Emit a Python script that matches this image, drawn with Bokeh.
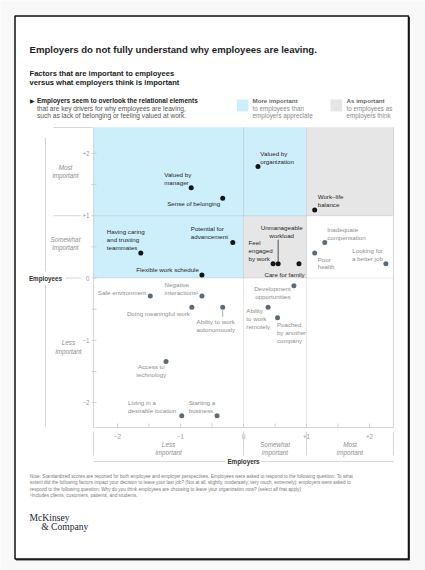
from bokeh.plotting import figure
from bokeh.models import Range1d
from bokeh.core.properties import value
from bokeh.embed import file_html
from bokeh.resources import INLINE

# ---------------- data ----------------
factors = [
    "Valued by manager", "Sense of belonging", "Potential for advancement",
    "Having caring and trusting teammates", "Flexible work schedule",
    "Valued by organization", "Work–life balance", "Feel engaged by work",
    "Unmanageable workload", "Care for family",
    "Inadequate compensation", "Poor health", "Looking for a better job",
    "Safe environment", "Negative interactions¹", "Doing meaningful work",
    "Ability to work autonomously", "Access to technology",
    "Living in a desirable location", "Starting a business",
    "Development opportunities", "Ability to work remotely",
    "Poached by another company",
]
label_lines = [
    "Valued by\nmanager", "Sense of belonging", "Potential for\nadvancement",
    "Having caring\nand trusting\nteammates", "Flexible work schedule",
    "Valued by\norganization", "Work–life\nbalance", "Feel\nengaged\nby work",
    "Unmanageable\nworkload", "Care for family",
    "Inadequate\ncompensation", "Poor\nhealth", "Looking for\na better job",
    "Safe environment", "Negative\ninteractions¹", "Doing meaningful work",
    "Ability to work\nautonomously", "Access to\ntechnology",
    "Living in a\ndesirable location", "Starting a\nbusiness",
    "Development\nopportunities", "Ability\nto work\nremotely",
    "Poached\nby another\ncompany",
]
# x: importance according to employers, y: importance according to employees
employers = [-0.83, -0.33, -0.17, -1.63, -0.66, 0.23, 1.13, 0.47, 0.55, 0.88,
             1.29, 1.13, 2.26, -1.48, -0.66, -0.82, -0.33, -1.23, -0.98, -0.42,
             0.80, 0.39, 0.54]
employees = [1.45, 1.28, 0.57, 0.40, 0.05, 1.79, 1.09, 0.23, 0.23, 0.23,
             0.57, 0.40, 0.23, -0.29, -0.29, -0.47, -0.47, -1.34, -2.21, -2.21,
             -0.125, -0.47, -0.64]

x_ticks = [-2, -1, 0, 1, 2]
x_tick_labels = ["−2", "−1", "0", "+1", "+2"]
y_ticks = [2, 1, 0, -1, -2]
y_tick_labels = ["+2", "+1", "0", "−1", "−2"]
minor_ticks = [-2, -1.5, -1, -0.5, 0, 0.5, 1, 1.5, 2]
x_limits = [-2.38, 2.38]
y_limits = [-2.40, 2.42]
x_band_edges = [-2.38, 0, 1, 2.38]
x_band_names = ["Less\nimportant", "Somewhat\nimportant", "Most\nimportant"]
y_band_names = ["Most\nimportant", "Somewhat\nimportant", "Less\nimportant"]

# ---------------- layout (page pixels) ----------------
W, H = 425, 570
OFF = 0
X0, Y0 = 243.0, 277.5     # page pixel of data (0, 0)
SX, SY = 63.0, 62.3       # pixels per unit


def X(px):
    return (px - X0) / SX


def Y(py):
    return (Y0 - py) / SY


FONT = value("Liberation Sans")
SERIF = value("Liberation Serif")

BLUE = "#cdeefb"
GRAY_BG = "#e6e6e6"
DARK_PT = "#151515"
GRAY_PT = "#5d6a75"
DARK_TXT = "#262626"
GRAY_TXT = "#8e8e8e"
TICK_TXT = "#9c9c9c"
LINE = "#d6d6d6"

p = figure(width=W, height=H,
           x_range=Range1d(X(OFF), X(OFF + W)),
           y_range=Range1d(Y(OFF + H), Y(OFF)),
           x_axis_type=None, y_axis_type=None,
           min_border=0, toolbar_location=None, output_backend="svg")
p.outline_line_color = None
p.background_fill_color = "#f8f8f8"
p.border_fill_color = "#f8f8f8"
p.grid.visible = False


def txt(px, py, s, size, color, bold=False, italic=False, align="left",
        baseline="middle", font=FONT, lh=1.2):
    style = "normal"
    if bold and italic:
        style = "bold italic"
    elif bold:
        style = "bold"
    elif italic:
        style = "italic"
    p.text(x=[X(px)], y=[Y(py)], text=[s], text_font=font,
           text_font_size=value(f"{size}px"), text_color=color,
           text_font_style=style, text_align=align, text_baseline=baseline,
           text_line_height=lh)


def hline(px0, px1, py, color=LINE, w=1):
    p.segment(x0=[X(px0)], y0=[Y(py)], x1=[X(px1)], y1=[Y(py)],
              line_color=color, line_width=w)


def vline(px, py0, py1, color=LINE, w=1):
    p.segment(x0=[X(px)], y0=[Y(py0)], x1=[X(px)], y1=[Y(py1)],
              line_color=color, line_width=w)


# ---------------- card ----------------
p.quad(left=[X(15.5)], right=[X(409.5)], top=[Y(16.5)], bottom=[Y(560)],
       fill_color="#444444", line_color=None)
p.quad(left=[X(14.5)], right=[X(408)], top=[Y(15.5)], bottom=[Y(558.5)],
       fill_color="white", line_color="#111111", line_width=1.5)

# ---------------- header texts ----------------
txt(29, 49, "Employers do not fully understand why employees are leaving.",
    9.6, "#1e1e1e", bold=True)
txt(29, 73.3, "Factors that are important to employees", 7.6, "#222222", bold=True)
txt(29, 81.7, "versus what employers think is important", 7.6, "#222222", bold=True)
txt(29.5, 100, "▶", 5.5, "#222222")
txt(36.5, 100, "Employers seem to overlook the relational elements", 6.5,
    "#222222", bold=True)
txt(36.5, 107.7, "that are key drivers for why employees are leaving,", 6.6, "#555555")
txt(36.5, 115, "such as lack of belonging or feeling valued at work.", 6.6, "#555555")

# legend
p.quad(left=[X(236.5)], right=[X(248)], top=[Y(99)], bottom=[Y(111)],
       fill_color=BLUE, line_color=None)
txt(252, 100, "More important", 6.2, "#666666", bold=True)
txt(252, 107.6, "to employees than", 6.3, "#8a8a8a")
txt(252, 115, "employers appreciate", 6.3, "#8a8a8a")
p.quad(left=[X(330)], right=[X(341.7)], top=[Y(99)], bottom=[Y(111)],
       fill_color=GRAY_BG, line_color=None)
txt(346, 100, "As important", 6.2, "#666666", bold=True)
txt(346, 107.6, "to employees as", 6.3, "#8a8a8a")
txt(346, 115, "employers think", 6.3, "#8a8a8a")

# ---------------- plot area ----------------
xl, xr = x_limits
yb, yt = y_limits
# shaded zones
p.quad(left=[xl, xl], right=[1, 0], bottom=[1, 0], top=[yt, 1],
       fill_color=BLUE, line_color=None)
p.quad(left=[1, 0], right=[xr, 1], bottom=[1, 0], top=[yt, 1],
       fill_color=GRAY_BG, line_color=None)
# quadrant lines
p.segment(x0=[0, 1], y0=[yb, yb], x1=[0, 1], y1=[yt, yt],
          line_color="#000000", line_alpha=0.09, line_width=1)
p.segment(x0=[xl, xl], y0=[0, 1], x1=[xr, xr], y1=[0, 1],
          line_color="#000000", line_alpha=0.09, line_width=1)
# frame
p.segment(x0=[xl, xl, xr], y0=[yb, yb, yb], x1=[xl, xr, xr], y1=[yt, yb, yt],
          line_color=LINE, line_width=1)
# minor ticks
p.segment(x0=minor_ticks, y0=[yb] * len(minor_ticks), x1=minor_ticks,
          y1=[yb + 4 / SY] * len(minor_ticks), line_color="#cfcfcf")
p.segment(x0=[xl - 2 / SX] * len(minor_ticks), y0=minor_ticks,
          x1=[xl + 3 / SX] * len(minor_ticks), y1=minor_ticks, line_color="#cfcfcf")

# tick labels
p.text(x=x_ticks, y=[yb] * len(x_ticks), text=x_tick_labels, text_font=FONT,
       text_font_size=value("6.3px"), text_color=TICK_TXT, text_align="center",
       text_baseline="middle", y_offset=8.5)
p.text(x=[xl] * len(y_ticks), y=y_ticks, text=y_tick_labels, text_font=FONT,
       text_font_size=value("6.3px"), text_color=TICK_TXT, text_align="right",
       text_baseline="middle", x_offset=-4)

# bottom bands
band_cx = [(x_band_edges[i] + x_band_edges[i + 1]) / 2 for i in range(3)]
p.text(x=band_cx, y=[yb] * 3, text=x_band_names, text_font=FONT,
       text_font_size=value("6.3px"), text_color=GRAY_TXT, text_font_style="italic",
       text_align="center", text_baseline="middle", y_offset=21, text_line_height=1.2)
p.segment(x0=x_band_edges, y0=[Y(431)] * 4, x1=x_band_edges, y1=[Y(455)] * 4,
          line_color=LINE)
# Employers axis title
hline(93, 225, 461)
hline(261, 393, 461)
txt(243, 461, "Employers", 6.3, "#333333", bold=True, align="center")

# left bands
txt(65, 171.3, y_band_names[0], 6.3, GRAY_TXT, italic=True, align="center")
txt(65, 243, y_band_names[1], 6.3, GRAY_TXT, italic=True, align="center")
txt(68, 346.5, y_band_names[2], 6.3, GRAY_TXT, italic=True, align="center")
hline(53, 80.5, 215.2)
hline(65, 80.5, 277.5)
hline(53, 92, 127)
vline(45, 137, 271)
vline(45, 284, 426)
txt(45, 277.5, "Employees", 6.3, "#333333", bold=True, align="center")

# ---------------- points ----------------
shaded = [(y >= 1) or (0 <= y < 1 and x < 1) for x, y in zip(employers, employees)]
cols = [DARK_PT if s else GRAY_PT for s in shaded]
tcols = [DARK_TXT if s else GRAY_TXT for s in shaded]

label_layout = [
    (-27, -1.5, "left", "bottom"), (-2.5, 5.5, "right", "middle"),
    (-42, -2.5, "left", "bottom"), (-34, -2.5, "left", "bottom"),
    (-3, -5.3, "right", "middle"), (2.3, -1.5, "left", "bottom"),
    (3, -2, "left", "bottom"), (-24.6, -1.8, "left", "bottom"),
    (3.5, -25, "center", "bottom"), (5.7, 10.4, "right", "middle"),
    (2.4, -1.5, "left", "bottom"), (3, 2.5, "left", "top"),
    (-3, -1.5, "right", "bottom"), (-4, -3.6, "right", "middle"),
    (-37.3, -0.5, "left", "bottom"), (-2, 6.3, "right", "middle"),
    (-7, 10.5, "center", "top"), (-14.7, 1.5, "center", "top"),
    (-53.7, -1.8, "left", "bottom"), (-28.3, -1.8, "left", "bottom"),
    (-3.3, -0.5, "right", "top"), (-21.7, -0.5, "left", "top"),
    (-0.6, 3, "left", "top"),
]
leaders = {8: (-2.5, -24), 16: (3, 9.5)}
for i, (a, b) in leaders.items():
    p.segment(x0=[employers[i]], y0=[employees[i] - a / SY], x1=[employers[i]],
              y1=[employees[i] - b / SY], line_color=tcols[i], line_width=0.8)

for i in range(len(factors)):
    dx, dy, al, bl = label_layout[i]
    p.text(x=[employers[i]], y=[employees[i]], text=[label_lines[i]],
           text_font=FONT, text_font_size=value("6.2px"), text_color=tcols[i],
           text_align=al, text_baseline=bl, x_offset=dx, y_offset=dy,
           text_line_height=1.13)

p.scatter(x=employers, y=employees, size=5, fill_color=cols, line_color=None)

# ---------------- footnotes ----------------
notes = [
    "Note: Standardized scores are reported for both employee and employer perspectives. Employees were asked to respond to the following question: To what",
    "extent did the following factors impact your decision to leave your last job? (Not at all, slightly, moderately, very much, extremely); employers were asked to",
    "respond to the following question: Why do you think employees are choosing to leave your organization now? (select all that apply)",
    "¹Includes clients, customers, patients, and students.",
]
for k, s in enumerate(notes):
    txt(29.5 if k else 29.3, 476 + 6.3 * k, s, 4.7, "#7a7a7a")

txt(29, 516.5, "McKinsey", 9.6, "#1b2433", font=SERIF)
txt(40.7, 526, "& Company", 9.6, "#1b2433", font=SERIF)

open("out.html", "w").write(file_html(p, INLINE))
